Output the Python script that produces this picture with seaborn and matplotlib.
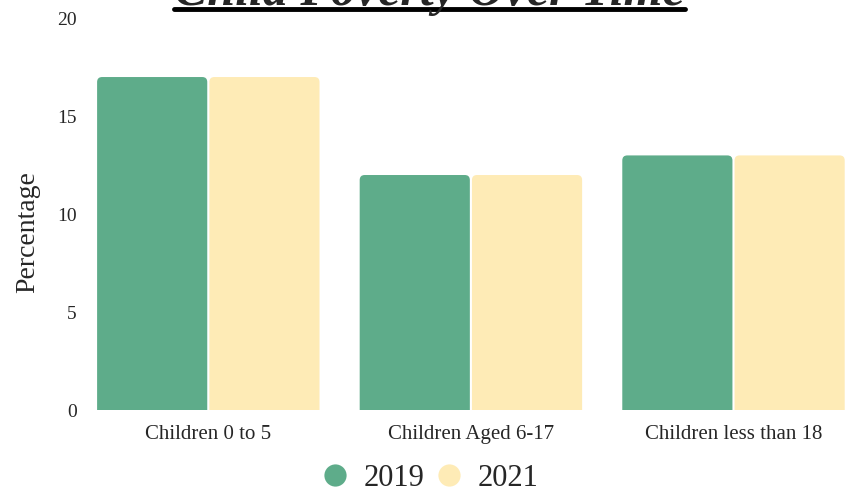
import matplotlib
matplotlib.use("Agg")
import matplotlib.pyplot as plt
import seaborn as sns
import pandas as pd
from matplotlib.patches import FancyBboxPatch
from matplotlib.lines import Line2D

# datos
groups = ["Children 0 to 5", "Children Aged 6-17", "Children less than 18"]
years = ["2019", "2021"]
pct_2019 = [17, 12, 13]
pct_2021 = [17, 12, 13]
colors = ["#5eac8a", "#feebb6"]

df = pd.DataFrame({
    "group": groups * 2,
    "year": [years[0]] * 3 + [years[1]] * 3,
    "pct": pct_2019 + pct_2021,
})

sns.set_style("white")
plt.rcParams["font.family"] = ["Liberation Serif", "DejaVu Serif"]

fig = plt.figure(figsize=(8.5, 4.93), dpi=100)
ax = fig.add_axes([0.113, 0.168, 0.882, 0.795])

sns.barplot(data=df, x="group", y="pct", hue="year", palette=colors,
            width=0.855, ax=ax, legend=False, saturation=1)

# barras con esquinas redondeadas arriba
x_unit = 262.5
y_unit = 19.6
r_px = 5
old = list(ax.patches)
for p in old:
    x0, y0 = p.get_x(), p.get_y()
    w, h = p.get_width(), p.get_height()
    fc = p.get_facecolor()
    p.remove()
    rx = r_px / x_unit
    ry = r_px / y_unit
    nb = FancyBboxPatch((x0 + 0.004, y0 - 1), w - 0.008, h + 1,
                        boxstyle=f"round,pad=0,rounding_size={rx}",
                        mutation_aspect=ry / rx,
                        facecolor=fc, edgecolor="none")
    ax.add_patch(nb)

ax.set_ylim(0, 20)
ax.set_xlim(-0.4275, 2.4275)
ax.set_yticks([0, 5, 10, 15, 20])
ax.tick_params(axis="y", labelsize=14, length=0, pad=14)
ax.tick_params(axis="x", labelsize=15, length=0, pad=11)
ax.set_xlabel("")
ax.set_ylabel("Percentage", fontsize=20)
ax.yaxis.set_label_coords(-0.074, 0.455)
sns.despine(ax=ax, left=True, bottom=True)

# leyenda
handles = [Line2D([0], [0], marker="o", color="none", markerfacecolor=c,
                  markeredgecolor="none", markersize=16) for c in colors]
fig.legend(handles, years, loc="center", bbox_to_anchor=(0.503, 0.03),
           ncol=2, frameon=False, fontsize=22, handletextpad=0.35,
           columnspacing=0.2, handlelength=1.2)

# titulo (cortado arriba)
t = fig.text(0.505, 0.99, "Child Poverty Over Time", ha="center", va="baseline",
             fontsize=36, fontweight="bold", fontstyle="italic")
fig.canvas.draw()
bb = t.get_window_extent().transformed(fig.transFigure.inverted())
fig.add_artist(Line2D([bb.x0, bb.x1], [0.981, 0.981], color="black", lw=3.5,
                      transform=fig.transFigure))

fig.savefig("out.png", dpi=100)
